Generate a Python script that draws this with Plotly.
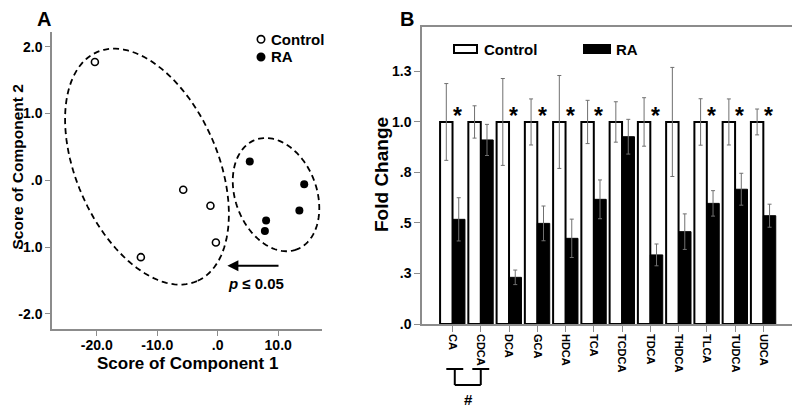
import numpy as np
import plotly.graph_objects as go

# page body has an 8px margin, so the figure is drawn 8px in from the corner
OFF = 8
W, H = 800 - OFF, 410 - OFF
FONT = "Liberation Sans, Arial, sans-serif"

# ---------------- Panel A data (PCA scores) ----------------
control_x = [-20.3, -5.7, -1.2, -0.3, -12.7]
control_y = [1.77, -0.14, -0.38, -0.93, -1.15]
ra_x = [5.3, 14.3, 13.5, 8.0, 7.8]
ra_y = [0.28, -0.06, -0.45, -0.60, -0.76]
pca_xticks = [-20, -10, 0, 10]
pca_xticktext = ["-20.0", "-10.0", ".0", "10.0"]
pca_yticks = [-2, -1, 0, 1, 2]
pca_yticktext = ["-2.0", "-1.0", ".0", "1.0", "2.0"]

# ---------------- Panel B data (fold change) ----------------
acids = ["CA", "CDCA", "DCA", "GCA", "HDCA", "TCA", "TCDCA", "TDCA",
         "THDCA", "TLCA", "TUDCA", "UDCA"]
control_fc = [1.0, 1.0, 1.0, 1.0, 1.0, 1.0, 1.0, 1.0, 1.0, 1.0, 1.0, 1.0]
control_err = [0.19, 0.08, 0.215, 0.114, 0.23, 0.107, 0.10, 0.12, 0.27, 0.115, 0.114, 0.064]
ra_fc = [0.518, 0.911, 0.231, 0.498, 0.424, 0.617, 0.927, 0.342, 0.457, 0.597, 0.667, 0.536]
ra_err = [0.107, 0.077, 0.036, 0.086, 0.095, 0.096, 0.086, 0.054, 0.088, 0.063, 0.079, 0.057]
significant = [True, False, True, True, True, True, False, True, False, True, True, True]
fc_ticks = [0, 0.25, 0.5, 0.75, 1.0, 1.25]
fc_ticktext = [".0", ".3", ".5", ".8", "1.0", "1.3"]


def px(x):
    return (x - OFF) / W


def py(y):
    return 1 - (y - OFF) / H


fig = go.Figure()

# Panel A scatter
fig.add_trace(go.Scatter(
    x=control_x, y=control_y, mode="markers", name="Control",
    marker=dict(symbol="circle-open", size=7, color="black", line=dict(width=1.6)),
    xaxis="x", yaxis="y", showlegend=False))
fig.add_trace(go.Scatter(
    x=ra_x, y=ra_y, mode="markers", name="RA",
    marker=dict(symbol="circle", size=8, color="black"),
    xaxis="x", yaxis="y", showlegend=False))

# Panel B bars
err_style = dict(type="data", visible=True, color="#707070", thickness=1, width=2)
fig.add_trace(go.Bar(
    x=acids, y=control_fc, name="Control",
    marker=dict(color="white", line=dict(color="black", width=2)),
    error_y=dict(array=control_err, **err_style),
    xaxis="x2", yaxis="y2", showlegend=False))
fig.add_trace(go.Bar(
    x=acids, y=ra_fc, name="RA",
    marker=dict(color="black", line=dict(color="black", width=1)),
    error_y=dict(array=ra_err, **err_style),
    xaxis="x2", yaxis="y2", showlegend=False))

axis_font = dict(family=FONT, size=14, color="black", weight="bold")
line_col = "#8c8c8c"

fig.update_layout(
    width=W, height=H,
    margin=dict(l=0, r=0, t=0, b=0, autoexpand=False),
    paper_bgcolor="white", plot_bgcolor="white",
    barmode="group", bargap=0.12, bargroupgap=0,
    font=dict(family=FONT, color="black"),
    xaxis=dict(domain=[px(52), px(322)], range=[-27.39, 17.24],
               tickvals=pca_xticks, ticktext=pca_xticktext, automargin=False,
               tickfont=axis_font, showgrid=False, zeroline=False,
               showline=True, linecolor=line_col, linewidth=1.5,
               ticks="outside", ticklen=5, tickcolor=line_col, anchor="y",
               ticklabelstandoff=-3),
    yaxis=dict(domain=[py(329), py(32)], range=[-2.225, 2.22],
               tickvals=pca_yticks, ticktext=pca_yticktext, automargin=False,
               tickfont=axis_font, showgrid=False, zeroline=False,
               showline=True, linecolor=line_col, linewidth=1.5,
               ticks="outside", ticklen=5, tickcolor=line_col, anchor="x"),
    xaxis2=dict(domain=[px(422), px(793)], range=[-1.08, 12.05],
                type="category", tickangle=90, automargin=False,
                tickfont=dict(family=FONT, size=11, color="black", weight="bold"),
                showgrid=False, zeroline=False, showline=True, mirror=True,
                linecolor=line_col, linewidth=1.5,
                ticks="outside", ticklen=6, tickcolor=line_col, anchor="y2"),
    yaxis2=dict(domain=[py(324), py(27)], range=[0, 1.47],
                tickvals=fc_ticks, ticktext=fc_ticktext, automargin=False,
                tickfont=axis_font, showgrid=False, zeroline=False,
                showline=True, mirror=True, linecolor=line_col, linewidth=1.5,
                ticks="outside", ticklen=6, tickcolor=line_col, anchor="x2"),
)

shapes = []

# dashed group ellipses (panel A), centre + semi-axis vectors in data units
ellipses = [
    dict(c=(-11.69, 0.205), u=(8.27, -1.714), v=(-10.72, -0.425)),
    dict(c=(9.64, -0.214), u=(3.42, -0.820), v=(-6.28, -0.215)),
]
t = np.linspace(0, 2 * np.pi, 121)
for e in ellipses:
    ex = e["c"][0] + e["u"][0] * np.cos(t) + e["v"][0] * np.sin(t)
    ey = e["c"][1] + e["u"][1] * np.cos(t) + e["v"][1] * np.sin(t)
    path = "M " + " L ".join(f"{a:.3f},{b:.4f}" for a, b in zip(ex, ey)) + " Z"
    shapes.append(dict(type="path", path=path, xref="x", yref="y",
                       line=dict(color="black", width=1.8, dash="6px,4px")))

# panel A legend markers
for yy, filled in [(39.3, False), (57, True)]:
    shapes.append(dict(type="circle", xref="paper", yref="paper",
                       x0=px(261 - 3.7), x1=px(261 + 3.7),
                       y0=py(yy + 3.7), y1=py(yy - 3.7),
                       fillcolor="black" if filled else "white",
                       line=dict(color="black", width=1.6)))

# panel B legend swatches
shapes.append(dict(type="rect", xref="paper", yref="paper",
                   x0=px(454), x1=px(477), y0=py(53), y1=py(45),
                   fillcolor="white", line=dict(color="black", width=2)))
shapes.append(dict(type="rect", xref="paper", yref="paper",
                   x0=px(584), x1=px(610), y0=py(53), y1=py(45),
                   fillcolor="black", line=dict(color="black", width=2)))

# '#' bracket between CA and CDCA
bl, br, cap = 0.08, 1.0, 0.3
y_top, y_bot = py(369), py(385)
for seg in [(bl - cap, y_top, bl + cap, y_top), (bl, y_top, bl, y_bot),
            (bl, y_bot, br, y_bot), (br, y_bot, br, y_top),
            (br - cap, y_top, br + cap, y_top)]:
    shapes.append(dict(type="line", xref="x2", yref="paper",
                       x0=seg[0], y0=seg[1], x1=seg[2], y1=seg[3],
                       line=dict(color="black", width=2)))

fig.update_layout(shapes=shapes)

bold = lambda s: f"<b>{s}</b>"
ann = []


def ptext(text, x, y, size, xanchor="center", angle=0, pad=1):
    ann.append(dict(text=bold(text), x=px(x), y=py(y), xref="paper", yref="paper",
                    xanchor=xanchor, yanchor="middle", showarrow=False,
                    textangle=angle, borderpad=pad, font=dict(size=size)))


# panel letters
ptext("A", 44, 19, 20, pad=0)
ptext("B", 407, 19, 20, pad=0)
# axis titles
ptext("Score of Component 1", 187, 363, 17)
ptext("Score of Component 2", 17.5, 167, 15.5, angle=-90, pad=0)
ptext("Fold Change", 381, 175, 19, angle=-90)
# panel A legend text
ptext("Control", 269, 39.3, 15, xanchor="left")
ptext("RA", 269, 57, 15, xanchor="left")
# panel B legend text
ptext("Control", 482, 49, 15, xanchor="left")
ptext("RA", 614, 49, 15, xanchor="left")

# arrow + p value (panel A)
ann.append(dict(text="", x=1.6, y=-1.277, ax=10.3, ay=-1.277, xref="x", yref="y",
                axref="x", ayref="y", showarrow=True, arrowhead=2, arrowsize=1.1,
                arrowwidth=2, arrowcolor="black"))
ann.append(dict(text=bold("<i>p</i> ≤ 0.05"), x=6.36, y=-1.55, xref="x", yref="y",
                xanchor="center", yanchor="middle", showarrow=False,
                font=dict(size=15)))
# significance asterisks
for i, (name, sig) in enumerate(zip(acids, significant)):
    if sig:
        ann.append(dict(text=bold("*"), x=i + 0.17, y=1.05, xref="x2", yref="y2",
                        xanchor="center", yanchor="middle",
                        showarrow=False, yshift=-4, font=dict(size=23)))
# '#'
ann.append(dict(text=bold("#"), x=0.55, y=py(399), xref="x2", yref="paper",
                xanchor="center", yanchor="middle",
                showarrow=False, font=dict(size=15)))

fig.update_layout(annotations=ann)
fig.write_html("out.html")
